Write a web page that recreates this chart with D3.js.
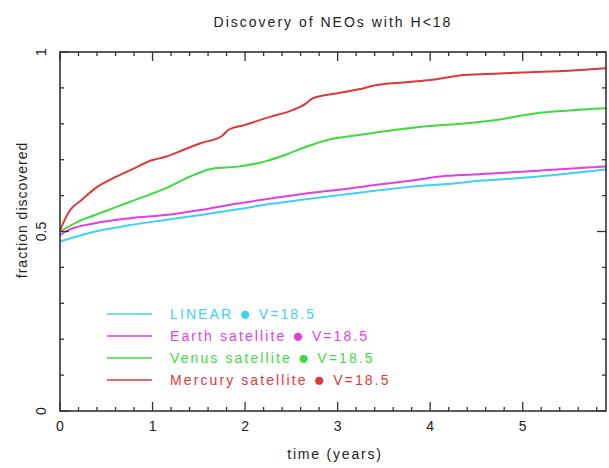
<!DOCTYPE html>
<meta charset="utf-8">
<head>
  <script src="https://d3js.org/d3.v7.min.js"></script>
  <style>
    body { margin: 0; background: #fff; }
    text { font-family: "Liberation Sans", Arial, sans-serif; }
  </style>
</head>
<body>
<div id="container"></div>
<script>
// values
var linearT  = [0, 0.38, 0.76, 1.14, 1.52, 1.9, 2.28, 2.66, 3.04, 3.42, 3.8, 4.18, 4.56, 4.94, 5.32, 5.9];
var linearF  = [0.472, 0.5, 0.518, 0.532, 0.546, 0.561, 0.577, 0.59, 0.602, 0.614, 0.625, 0.632, 0.642, 0.648, 0.657, 0.673];
var earthT   = [0, 0.1, 0.38, 0.76, 1.14, 1.52, 1.9, 2.28, 2.66, 3.04, 3.42, 3.8, 4.18, 4.56, 4.94, 5.32, 5.9];
var earthF   = [0.49, 0.505, 0.523, 0.537, 0.546, 0.56, 0.577, 0.592, 0.606, 0.617, 0.63, 0.642, 0.655, 0.66, 0.666, 0.672, 0.681];
var venusT   = [0, 0.19, 0.38, 0.76, 1.14, 1.44, 1.67, 1.9, 2.2, 2.43, 2.66, 2.89, 3.23, 3.61, 3.99, 4.37, 4.75, 5.13, 5.5, 5.9];
var venusF   = [0.5, 0.527, 0.546, 0.583, 0.62, 0.657, 0.676, 0.68, 0.694, 0.713, 0.736, 0.755, 0.769, 0.783, 0.794, 0.801, 0.812, 0.829, 0.837, 0.843];
var mercuryT = [0, 0.11, 0.23, 0.38, 0.57, 0.76, 1.0, 1.14, 1.33, 1.52, 1.75, 1.82, 2.0, 2.28, 2.47, 2.66, 2.73, 3.0, 3.23, 3.42, 3.8, 4.0, 4.37, 4.75, 5.0, 5.5, 5.9];
var mercuryF = [0.504, 0.56, 0.587, 0.62, 0.648, 0.671, 0.699, 0.708, 0.727, 0.746, 0.766, 0.783, 0.797, 0.82, 0.834, 0.857, 0.871, 0.885, 0.896, 0.908, 0.917, 0.922, 0.936, 0.94, 0.943, 0.948, 0.955];

var seriesLabels = ["LINEAR", "Earth satellite", "Venus satellite", "Mercury satellite"];
var seriesMag = "V=18.5";
var seriesColors = ["#3cd2f0", "#e33ee3", "#3fda3f", "#e03838"];

var xTicks = [0, 1, 2, 3, 4, 5];
var yTicks = [0, 0.5, 1];

var width = 609, height = 468;
var margin = {left: 60, right: 3, top: 52, bottom: 57};

var svg = d3.select("#container").append("svg")
  .attr("width", width)
  .attr("height", height);

var x = d3.scaleLinear().domain([0, 5.9]).range([margin.left, width - margin.right]);
var y = d3.scaleLinear().domain([0, 1]).range([height - margin.bottom, margin.top]);

var frameColor = "#333";

// curves
var series = [[linearT, linearF], [earthT, earthF], [venusT, venusF], [mercuryT, mercuryF]];
var line = d3.line()
  .x(function (d) { return x(d[0]); })
  .y(function (d) { return y(d[1]); })
  .curve(d3.curveMonotoneX);

series.forEach(function (s, i) {
  var pts = s[0].map(function (t, j) { return [t, s[1][j]]; });
  svg.append("path")
    .attr("d", line(pts))
    .attr("fill", "none")
    .attr("stroke", seriesColors[i])
    .attr("stroke-width", 2);
});

// frame
svg.append("rect")
  .attr("x", x(0)).attr("y", y(1))
  .attr("width", x(5.9) - x(0)).attr("height", y(0) - y(1))
  .attr("fill", "none").attr("stroke", frameColor).attr("stroke-width", 1.6);

// inward ticks on all four sides
var xMinor = d3.range(0, 5.9001, 0.2);
var yMinor = d3.range(0, 1.0001, 0.1);

function isMajor(v, list) { return list.some(function (m) { return Math.abs(m - v) < 1e-6; }); }

xMinor.forEach(function (v) {
  var len = isMajor(v, xTicks) ? 9 : 4;
  svg.append("line").attr("x1", x(v)).attr("x2", x(v)).attr("y1", y(0)).attr("y2", y(0) - len)
    .attr("stroke", frameColor).attr("stroke-width", 1.3);
  svg.append("line").attr("x1", x(v)).attr("x2", x(v)).attr("y1", y(1)).attr("y2", y(1) + len)
    .attr("stroke", frameColor).attr("stroke-width", 1.3);
});
yMinor.forEach(function (v) {
  var len = isMajor(v, yTicks) ? 9 : 4;
  svg.append("line").attr("x1", x(0)).attr("x2", x(0) + len).attr("y1", y(v)).attr("y2", y(v))
    .attr("stroke", frameColor).attr("stroke-width", 1.3);
  svg.append("line").attr("x1", x(5.9)).attr("x2", x(5.9) - len).attr("y1", y(v)).attr("y2", y(v))
    .attr("stroke", frameColor).attr("stroke-width", 1.3);
});

// tick labels
svg.selectAll(".xlab").data(xTicks).enter().append("text")
  .attr("x", function (d) { return x(d); })
  .attr("y", y(0) + 20)
  .attr("text-anchor", "middle")
  .attr("font-size", 14)
  .attr("fill", "#222")
  .text(function (d) { return d; });

svg.selectAll(".ylab").data(yTicks).enter().append("text")
  .attr("transform", function (d) { return "translate(" + (x(0) - 14) + "," + y(d) + ") rotate(-90)"; })
  .attr("text-anchor", "middle")
  .attr("font-size", 14)
  .attr("fill", "#222")
  .text(function (d) { return d; });

// titles
svg.append("text")
  .attr("x", 333).attr("y", 27)
  .attr("text-anchor", "middle")
  .attr("font-size", 14)
  .attr("letter-spacing", 2)
  .attr("fill", "#222")
  .text("Discovery of NEOs with H<18");

svg.append("text")
  .attr("x", 335).attr("y", 459)
  .attr("text-anchor", "middle")
  .attr("font-size", 14)
  .attr("letter-spacing", 1.8)
  .attr("fill", "#222")
  .text("time (years)");

svg.append("text")
  .attr("transform", "translate(27," + y(0.56) + ") rotate(-90)")
  .attr("text-anchor", "middle")
  .attr("font-size", 14)
  .attr("letter-spacing", 1)
  .attr("fill", "#222")
  .text("fraction discovered");

// legend
var legendY0 = 314, legendStep = 22;
seriesLabels.forEach(function (name, i) {
  var ly = legendY0 + i * legendStep;
  svg.append("line")
    .attr("x1", 107).attr("x2", 152).attr("y1", ly).attr("y2", ly)
    .attr("stroke", seriesColors[i]).attr("stroke-width", 1.6);
  var t = svg.append("text")
    .attr("x", 170).attr("y", ly + 5)
    .attr("font-size", 14)
    .attr("letter-spacing", 2.1)
    .attr("fill", seriesColors[i]);
  t.append("tspan").text(name + " ");
  t.append("tspan").attr("font-size", 19).attr("dy", 1).text("\u25CF");
  t.append("tspan").attr("dy", -1).text(" " + seriesMag);
});
</script>
</body>
